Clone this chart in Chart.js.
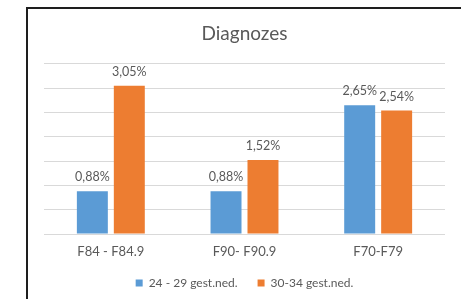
<!DOCTYPE html>
<html>
<head>
<meta charset="utf-8">
<script src="https://cdn.jsdelivr.net/npm/chart.js@4/dist/chart.umd.min.js"></script>
<style>
html,body{margin:0;padding:0;background:#fff;width:461px;height:299px;overflow:hidden;}
#wrap{position:absolute;left:0;top:0;width:461px;height:299px;}
#frame{position:absolute;left:26px;top:7px;width:440px;height:300px;border-left:2px solid #1e1e1e;border-top:2px solid #1e1e1e;pointer-events:none;}
</style>
</head>
<body>
<div id="wrap"><canvas id="c" width="461" height="299"></canvas></div>
<div id="frame"></div>
<script>
const title = 'Diagnozes';
const categories = ['F84 - F84.9', 'F90- F90.9', 'F70-F79'];
const seriesNames = ['24 - 29 gest.ned.', '30-34 gest.ned.'];
const series1 = [0.88, 0.88, 2.65];
const series2 = [3.05, 1.52, 2.54];
const yMin = 0, yMax = 3.5, yStep = 0.5;

const FONT = 'Lato, "Liberation Sans", sans-serif';
const GRAY = '#595959';

const labelPlugin = {
  id: 'barLabels',
  afterDatasetsDraw(chart) {
    const ctx = chart.ctx;
    ctx.save();
    ctx.font = '12.5px ' + FONT;
    ctx.fillStyle = GRAY;
    ctx.textAlign = 'center';
    ctx.textBaseline = 'middle';
    chart.data.datasets.forEach((ds, i) => {
      const meta = chart.getDatasetMeta(i);
      meta.data.forEach((bar, j) => {
        const v = ds.data[j];
        const txt = v.toFixed(2).replace('.', ',') + '%';
        ctx.fillText(txt, bar.x, bar.y - 14);
      });
    });
    ctx.restore();
  }
};

new Chart(document.getElementById('c'), {
  type: 'bar',
  data: {
    labels: categories,
    datasets: [
      { label: seriesNames[0], data: series1, backgroundColor: '#5B9BD5', categoryPercentage: 0.553, barPercentage: 0.838 },
      { label: seriesNames[1], data: series2, backgroundColor: '#ED7D31', categoryPercentage: 0.553, barPercentage: 0.838 }
    ]
  },
  options: {
    responsive: false,
    animation: false,
    devicePixelRatio: 1,
    layout: { padding: { left: 44, right: 16, top: 0, bottom: 0 } },
    plugins: {
      title: { display: true, text: title, color: GRAY, font: { family: FONT, size: 19, weight: 'normal' }, padding: { top: 22, bottom: 19 } },
      legend: {
        position: 'bottom',
        labels: { color: GRAY, font: { family: FONT, size: 12 }, boxWidth: 7, boxHeight: 7, padding: 20 }
      },
      tooltip: { enabled: false }
    },
    scales: {
      x: {
        grid: { display: false, drawTicks: false },
        border: { display: false },
        ticks: { color: GRAY, font: { family: FONT, size: 13, lineHeight: 1 }, padding: 11 },
        afterFit: (s) => { s.height = 23; }
      },
      y: {
        min: yMin, max: yMax,
        ticks: { display: false, stepSize: yStep },
        grid: { color: '#d9d9d9', drawTicks: false },
        border: { display: false }
      }
    }
  },
  plugins: [labelPlugin]
});
</script>
</body>
</html>
